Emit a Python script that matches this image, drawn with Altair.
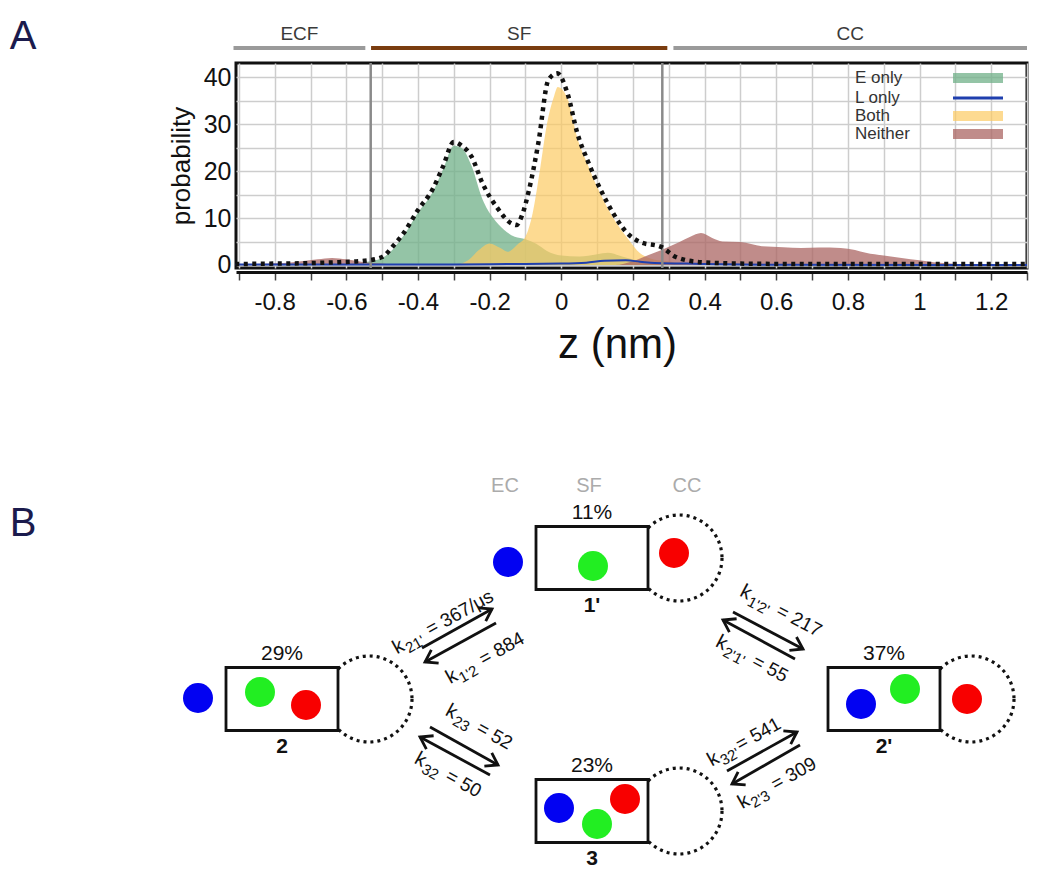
import math
import altair as alt
import pandas as pd

FONT = "Liberation Sans"

# ---------------- Panel A: probability profiles along z (nm) ----------------
TOTAL_Z = [-0.91, -0.80, -0.70, -0.62, -0.55, -0.50, -0.47, -0.44, -0.40, -0.36,
           -0.33, -0.30, -0.28, -0.25, -0.22, -0.18, -0.14, -0.125, -0.11, -0.09,
           -0.064, -0.036, -0.011, 0.017, 0.045, 0.073, 0.11, 0.145, 0.184, 0.22,
           0.28, 0.32, 0.39, 0.50, 0.70, 1.00, 1.30]
TOTAL_P = [0.2, 0.3, 0.4, 0.6, 0.9, 1.7, 4.0, 6.8, 11.7, 16.0,
           21.0, 26.2, 25.5, 23.0, 17.4, 12.3, 8.9, 8.5, 10.5, 16.0,
           26.0, 39.4, 40.8, 36.6, 28.0, 22.3, 16.0, 11.0, 6.8, 4.9,
           3.8, 1.7, 0.6, 0.3, 0.2, 0.2, 0.2]

EONLY_Z = [-0.91, -0.60, -0.55, -0.50, -0.44, -0.40, -0.36, -0.33, -0.30, -0.28,
           -0.25, -0.22, -0.19, -0.16, -0.13, -0.10, -0.07, -0.04, 0.00, 0.05,
           0.10, 0.13, 0.17, 0.22, 0.27, 0.32, 1.30]
EONLY_P = [0.0, 0.0, 0.6, 1.5, 6.3, 11.2, 15.4, 20.4, 25.4, 25.0,
           21.0, 14.0, 10.0, 7.5, 6.0, 5.5, 4.5, 3.0, 2.0, 1.8,
           2.3, 2.6, 1.8, 0.8, 0.2, 0.0, 0.0]

BOTH_Z = [-0.91, -0.30, -0.26, -0.23, -0.20, -0.17, -0.15, -0.12, -0.10, -0.08,
          -0.06, -0.04, -0.02, -0.01, 0.017, 0.045, 0.073, 0.11, 0.145, 0.184,
          0.22, 0.27, 0.30, 0.33, 0.36, 1.30]
BOTH_P = [0.0, 0.0, 1.0, 3.2, 4.6, 3.6, 2.8, 4.5, 6.0, 11.0,
          20.0, 30.0, 36.0, 37.9, 35.5, 27.0, 21.5, 15.0, 10.0, 5.8,
          2.5, 1.0, 0.8, 0.3, 0.0, 0.0]

NEITHER_Z = [-0.91, -0.85, -0.75, -0.68, -0.64, -0.60, -0.55, -0.50, -0.45, 0.15,
             0.20, 0.24, 0.28, 0.33, 0.36, 0.39, 0.42, 0.45, 0.50, 0.56,
             0.62, 0.67, 0.72, 0.78, 0.82, 0.85, 0.90, 0.95, 1.00, 1.04,
             1.11, 1.16, 1.30]
NEITHER_P = [0.0, 0.2, 0.6, 1.2, 1.5, 1.2, 0.6, 0.3, 0.0, 0.0,
             0.8, 2.0, 3.2, 4.9, 6.0, 6.8, 5.8, 5.0, 4.9, 4.0,
             3.8, 3.6, 3.7, 3.6, 3.2, 2.6, 2.0, 1.5, 1.0, 0.6,
             0.2, 0.0, 0.0]

LONLY_Z = [-0.91, -0.30, -0.15, 0.00, 0.07, 0.12, 0.18, 0.22, 0.26, 0.35, 0.45, 0.60, 1.30]
LONLY_P = [0.1, 0.1, 0.2, 0.3, 0.5, 0.9, 1.0, 0.7, 0.4, 0.3, 0.15, 0.05, 0.0]

X_GRID = [-0.9, -0.8, -0.7, -0.6, -0.5, -0.4, -0.3, -0.2, -0.1, 0.0,
          0.1, 0.2, 0.3, 0.4, 0.5, 0.6, 0.7, 0.8, 0.9, 1.0, 1.1, 1.2, 1.3]
Y_GRID = [0, 5, 10, 15, 20, 25, 30, 35, 40]

REGION_NAMES = ["ECF", "SF", "CC"]
REGION_START = [-0.915, -0.531, 0.313]
REGION_END = [-0.547, 0.296, 1.30]
REGION_COLORS = ["#9a9a9a", "#7a3d10", "#9a9a9a"]
BOUNDARIES = [-0.532, 0.282]

LEG_LABELS = ["E only", "L only", "Both", "Neither"]

# colours
C_E, OP_E = "#70b088", 0.75
C_B, OP_B = "#fcca62", 0.7
C_N, OP_N = "#ab6563", 0.75
C_L = "#1f3fae"

# ---------------- Panel B: kinetic scheme ----------------
STATE_NAMES = ["1'", "2", "2'", "3"]
STATE_PCT = ["11%", "29%", "37%", "23%"]
STATE_CX = [592, 282, 884, 592]
STATE_CY = [558, 699, 699, 811]
BOX_HW, BOX_HH = 56, 31.5

ION_COLORS = ["#0202f2", "#22ee22", "#f80000"]
BLUE_X = [508, 198, 861, 559]
BLUE_Y = [562, 698, 704, 808]
GREEN_X = [593, 260, 905, 597]
GREEN_Y = [566, 692, 689, 824]
RED_X = [674, 306, 967, 625]
RED_Y = [553, 705, 699, 799]

COL_HEAD = ["EC", "SF", "CC"]
COL_HEAD_X = [505, 589, 687]
COL_HEAD_Y = 486

ARROW_X0 = [422, 496, 430, 490, 733, 795, 727, 800]
ARROW_Y0 = [648, 623, 727, 775, 612, 659, 771, 745]
ARROW_X1 = [492, 425, 498, 420, 803, 723, 797, 732]
ARROW_Y1 = [609, 662, 765, 737, 649, 620, 732, 784]

RATE_SUB = ["21'", "1'2", "23", "32", "1'2'", "2'1'", "32'", "2'3"]
RATE_VAL = ["= 367/\u03bcs", "= 884", "= 52", "= 50", "= 217", "= 55", "= 541", "= 309"]
RATE_GAP = [1, 1, 1, 1, 1, 1, 0, 1]
RATE_X = [443, 485, 479, 448, 781, 752, 744, 777]
RATE_Y = [622, 658, 727, 775, 611, 659, 742, 783]
RATE_ANGLE = [331, 331, 29, 29, 28, 28, 331, 331]

# ---------------- scales / axes ----------------
W, H = 791, 205
PAD_L, PAD_T = 228, 55

x_scale = alt.Scale(domain=[-0.908, 1.30], nice=False, zero=False)
y_scale = alt.Scale(domain=[-0.64, 43.0], nice=False, zero=False)

x_axis = alt.Axis(
    values=X_GRID,
    labelExpr="abs(round(datum.value*10)) % 2 == 0 ? replace(format(datum.value, '~g'), '\u2212', '-') : ''",
    grid=True, gridColor="#cdcdcd", gridWidth=1.5,
    domain=True, domainColor="#111111", domainWidth=3, offset=4,
    ticks=True, tickColor="#444444", tickSize=8, tickWidth=1.5,
    labelFont=FONT, labelFontSize=24, labelColor="#111111", labelPadding=10,
    labelOverlap=False, labelFlush=False,
    title="z (nm)", titleFont=FONT, titleFontSize=42, titleFontWeight="normal",
    titleColor="#111111", titleX=381, titleY=72, titleAlign="center", titleBaseline="middle",
)
y_axis = alt.Axis(
    values=Y_GRID,
    labelExpr="datum.value % 10 == 0 ? datum.label : ''",
    grid=True, gridColor="#cdcdcd", gridWidth=1.5,
    domain=False, ticks=False,
    labelFont=FONT, labelFontSize=25, labelColor="#111111", labelPadding=5,
    title="probability", titleFont=FONT, titleFontSize=26, titleFontWeight="normal",
    titleColor="#111111", titlePadding=9,
)


def xa(field="z"):
    return alt.X(f"{field}:Q", scale=x_scale, axis=x_axis)


def ya(field="p"):
    return alt.Y(f"{field}:Q", scale=y_scale, axis=y_axis)


def series(zs, ps):
    return pd.DataFrame({"z": zs, "p": ps})


neither = alt.Chart(series(NEITHER_Z, NEITHER_P)).mark_area(
    color=C_N, opacity=OP_N, interpolate="monotone").encode(x=xa(), y=ya())
eonly = alt.Chart(series(EONLY_Z, EONLY_P)).mark_area(
    color=C_E, opacity=OP_E, interpolate="monotone").encode(x=xa(), y=ya())
both = alt.Chart(series(BOTH_Z, BOTH_P)).mark_area(
    color=C_B, opacity=OP_B, interpolate="monotone").encode(x=xa(), y=ya())
lonly = alt.Chart(series(LONLY_Z, LONLY_P)).mark_line(
    color=C_L, strokeWidth=2, interpolate="monotone").encode(x=xa(), y=ya())
total = alt.Chart(series(TOTAL_Z, TOTAL_P)).mark_line(
    color="#111111", strokeWidth=4.5, strokeDash=[4, 4.5], interpolate="monotone").encode(x=xa(), y=ya())

bounds = alt.Chart(pd.DataFrame({"z": BOUNDARIES})).mark_rule(
    color="#8a8a8a", strokeWidth=2.5).encode(x=xa())

reg_df = pd.DataFrame({"name": REGION_NAMES, "z0": REGION_START, "z1": REGION_END,
                       "col": REGION_COLORS,
                       "zc": [(a + b) / 2 for a, b in zip(REGION_START, REGION_END)]})
head_rules = alt.Chart(reg_df).mark_rule(strokeWidth=4).encode(
    x=xa("z0"), x2="z1:Q", y=alt.value(-15), color=alt.Color("col:N", scale=None))
head_text = alt.Chart(reg_df).mark_text(
    font=FONT, fontSize=19, color="#3a3a3a", baseline="middle").encode(
    x=xa("zc"), y=alt.value(-29), text="name:N")

panel_a = alt.layer(eonly, both, neither, lonly, bounds, total, head_rules, head_text)

# ---------------- panel B on a page-layout scale ----------------
CX_SCALE = alt.Scale(domain=[0, 1050], range=[-(PAD_L + 8), 1050 - (PAD_L + 8)], nice=False, zero=False)
CY_SCALE = alt.Scale(domain=[0, 880], range=[-(PAD_T + 8), 880 - (PAD_T + 8)], nice=False, zero=False)


def cx(f):
    return alt.X(f"{f}:Q", scale=CX_SCALE, axis=None)


def cy(f):
    return alt.Y(f"{f}:Q", scale=CY_SCALE, axis=None)


states = pd.DataFrame({
    "name": STATE_NAMES, "pct": STATE_PCT,
    "x": STATE_CX, "y": STATE_CY,
    "x0": [c - BOX_HW for c in STATE_CX], "x1": [c + BOX_HW for c in STATE_CX],
    "y0": [c - BOX_HH for c in STATE_CY], "y1": [c + BOX_HH for c in STATE_CY],
    "ring_x": [c + BOX_HW + 31 for c in STATE_CX],
    "pct_y": [c - BOX_HH - 14 for c in STATE_CY],
    "name_y": [c + BOX_HH + 16 for c in STATE_CY],
})

rings = alt.Chart(states).mark_point(
    shape="circle", size=86 ** 2, filled=False, color="#111111", opacity=1,
    strokeWidth=3.2, strokeDash=[3, 4]).encode(x=cx("ring_x"), y=cy("y"))
boxes = alt.Chart(states).mark_rect(
    fill="white", stroke="#111111", strokeWidth=2.8).encode(
    x=cx("x0"), x2="x1:Q", y=cy("y0"), y2="y1:Q")
pct_text = alt.Chart(states).mark_text(
    font=FONT, fontSize=21, color="#111111", baseline="middle").encode(
    x=cx("x"), y=cy("pct_y"), text="pct:N")
name_text = alt.Chart(states).mark_text(
    font=FONT, fontSize=21, fontWeight="bold", color="#111111", baseline="middle").encode(
    x=cx("x"), y=cy("name_y"), text="name:N")

ions = pd.DataFrame({
    "x": BLUE_X + GREEN_X + RED_X,
    "y": BLUE_Y + GREEN_Y + RED_Y,
    "c": [ION_COLORS[0]] * 4 + [ION_COLORS[1]] * 4 + [ION_COLORS[2]] * 4,
})
ion_marks = alt.Chart(ions).mark_point(
    shape="circle", size=30 ** 2, filled=True, opacity=1, strokeWidth=0).encode(
    x=cx("x"), y=cy("y"), color=alt.Color("c:N", scale=None))

col_head = alt.Chart(pd.DataFrame({"t": COL_HEAD, "x": COL_HEAD_X, "y": [COL_HEAD_Y] * 3})).mark_text(
    font=FONT, fontSize=20, color="#ababab", baseline="middle").encode(
    x=cx("x"), y=cy("y"), text="t:N")

arrows = pd.DataFrame({"x0": ARROW_X0, "y0": ARROW_Y0, "x1": ARROW_X1, "y1": ARROW_Y1})
arrows["ang"] = [math.degrees(math.atan2(b1 - b0, a1 - a0)) % 360
                 for a0, b0, a1, b1 in zip(ARROW_X0, ARROW_Y0, ARROW_X1, ARROW_Y1)]
shafts = alt.Chart(arrows).mark_rule(color="#111111", strokeWidth=2.8).encode(
    x=cx("x0"), y=cy("y0"), x2="x1:Q", y2="y1:Q")
heads = alt.Chart(arrows).mark_point(
    shape="M -1.2 -0.8 L 0 0 L -1.2 0.8", size=360, filled=False, color="#111111",
    opacity=1, strokeWidth=2.8, strokeJoin="miter").encode(
    x=cx("x1"), y=cy("y1"), angle=alt.Angle("ang:Q", scale=None))

# rate labels: "k" + lowered subscript + "= value", all along the arrow direction
CHAR_W = {"k": 0.5, "'": 0.191, " ": 0.278, "=": 0.584, "/": 0.278, "\u03bc": 0.576, "s": 0.5}
K_SIZE, SUB_SIZE, VAL_SIZE = 20, 15, 19


def tw(s, size):
    return sum(CHAR_W.get(ch, 0.556) for ch in s) * size


rk, rs, rv = [], [], []
for sub, val, gap, x, y, a in zip(RATE_SUB, RATE_VAL, RATE_GAP, RATE_X, RATE_Y, RATE_ANGLE):
    wk, ws = tw("k", K_SIZE) + 1, tw(sub, SUB_SIZE) + 2
    wg = gap * 0.3 * VAL_SIZE
    wv = tw(val, VAL_SIZE)
    u0 = -(wk + ws + wg + wv) / 2
    ca, sa = math.cos(math.radians(a)), math.sin(math.radians(a))

    def place(u, v):
        return x + u * ca - v * sa, y + u * sa + v * ca

    px, py = place(u0, 0)
    rk.append({"x": px, "y": py, "a": a, "t": "k"})
    px, py = place(u0 + wk, 6)
    rs.append({"x": px, "y": py, "a": a, "t": sub})
    px, py = place(u0 + wk + ws + wg, 0)
    rv.append({"x": px, "y": py, "a": a, "t": val})


def rate_layer(rows, size):
    return alt.Chart(pd.DataFrame(rows)).mark_text(
        font=FONT, fontSize=size, color="#111111", align="left", baseline="middle").encode(
        x=cx("x"), y=cy("y"), text="t:N", angle=alt.Angle("a:Q", scale=None))


rate_k = rate_layer(rk, K_SIZE)
rate_s = rate_layer(rs, SUB_SIZE)
rate_v = rate_layer(rv, VAL_SIZE)

panel_letters = alt.Chart(pd.DataFrame({"t": ["A", "B"], "x": [23, 23], "y": [37, 524]})).mark_text(
    font=FONT, fontSize=40, color="#1b1b4d", baseline="middle").encode(
    x=cx("x"), y=cy("y"), text="t:N")

# legend of panel A
leg = pd.DataFrame({
    "t": LEG_LABELS, "x": [855] * 4, "y": [78, 98, 116, 134],
    "sx0": [953] * 4, "sx1": [1003] * 4,
    "c": [C_E, C_L, C_B, C_N], "op": [OP_E, 1.0, OP_B, OP_N],
})
leg["sy0"] = leg["y"] - 5
leg["sy1"] = leg["y"] + 5
leg_text = alt.Chart(leg).mark_text(
    font=FONT, fontSize=17, color="#333333", align="left", baseline="middle").encode(
    x=cx("x"), y=cy("y"), text="t:N")
leg_areas = alt.Chart(leg[leg["t"] != "L only"]).mark_rect().encode(
    x=cx("sx0"), x2="sx1:Q", y=cy("sy0"), y2="sy1:Q",
    color=alt.Color("c:N", scale=None), opacity=alt.Opacity("op:Q", scale=None))
leg_line = alt.Chart(leg[leg["t"] == "L only"]).mark_rule(strokeWidth=3).encode(
    x=cx("sx0"), x2="sx1:Q", y=cy("y"), color=alt.Color("c:N", scale=None))

panel_b = alt.layer(rings, boxes, ion_marks, pct_text, name_text, col_head,
                    shafts, heads, rate_k, rate_s, rate_v, panel_letters,
                    leg_areas, leg_line, leg_text)

chart = alt.layer(panel_a, panel_b).resolve_scale(
    x="independent", y="independent"
).properties(
    width=W, height=H,
    padding={"left": PAD_L, "top": PAD_T, "right": 10, "bottom": 600},
    autosize=alt.AutoSizeParams(type="none"),
    background="white",
).configure_view(stroke="#111111", strokeWidth=3)

chart.save("out.html", embed_options={"renderer": "svg", "actions": False})
